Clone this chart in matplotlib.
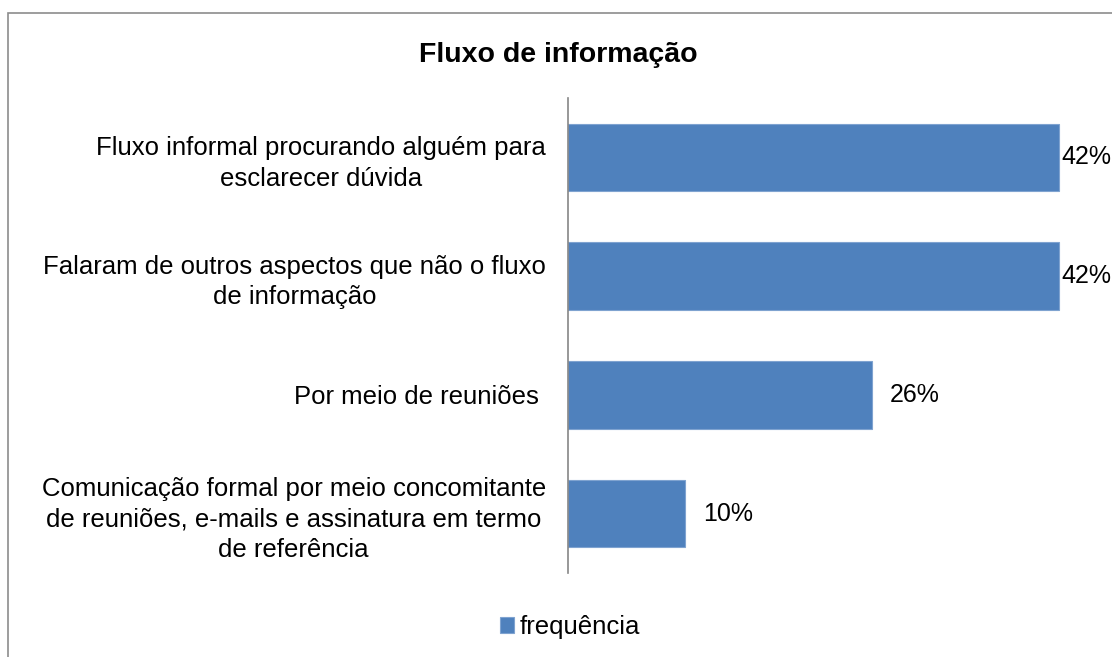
import numpy as np
import matplotlib
matplotlib.use('Agg')
import matplotlib.pyplot as plt
from matplotlib.patches import Rectangle

plt.rcParams['font.family'] = ['Liberation Sans', 'DejaVu Sans']

# data (top to bottom as in the chart)
categories = ['Fluxo informal procurando alguém para\nesclarecer dúvida',
              'Falaram de outros aspectos que não o fluxo\nde informação',
              'Por meio de reuniões ',
              'Comunicação formal por meio concomitante\nde reuniões, e-mails e assinatura em termo\nde referência']
values = [42, 42, 26, 10]
series_name = 'frequência'
title = 'Fluxo de informação'

fig = plt.figure(figsize=(11.12, 6.57), dpi=100)
# outer chart border like the excel chart area
fig.patches.append(Rectangle((8/1112, -0.05), 1.1, 1 - 13/657 + 0.05,
                             transform=fig.transFigure, fill=False,
                             edgecolor='#8c8c8c', linewidth=1.2))

ax = fig.add_axes([568/1112, 1 - 573/657, 48*11.68/1112, 475/657])
y = np.arange(len(categories))
bars = ax.barh(y, values, height=0.57, color='#4F81BD', edgecolor='#7fa3d0',
               linewidth=0.8, label=series_name)
ax.set_ylim(len(categories) - 0.5, -0.5)
ax.set_xlim(0, 48)

ax.set_yticks(y)
ax.set_yticklabels(categories, fontsize=18.5, ma='center', linespacing=1.35)
ax.tick_params(axis='y', length=0, pad=16)
ax.set_xticks([])
for s in ['top', 'right', 'bottom']:
    ax.spines[s].set_visible(False)
ax.spines['left'].set_color('#868686')
ax.spines['left'].set_linewidth(1.2)

# value labels (the long bars get their label tight against the end)
for b, v in zip(bars, values):
    off = 2 if v == max(values) else 13
    ax.annotate(f'{v}%', (b.get_width(), b.get_y() + b.get_height()/2),
                xytext=(off, 0), textcoords='offset points',
                va='center', ha='left', fontsize=18, annotation_clip=False)

fig.text(558/1112, 1 - 55/657, title, ha='center', va='center',
         fontsize=20.5, fontweight='bold')

fig.legend(handles=[bars], labels=[series_name], loc='center',
           bbox_to_anchor=(570/1112, 1 - 627/657), frameon=False,
           fontsize=18.5, handlelength=0.55, handleheight=0.55, handletextpad=0.2)

fig.savefig('out.png', dpi=100)
